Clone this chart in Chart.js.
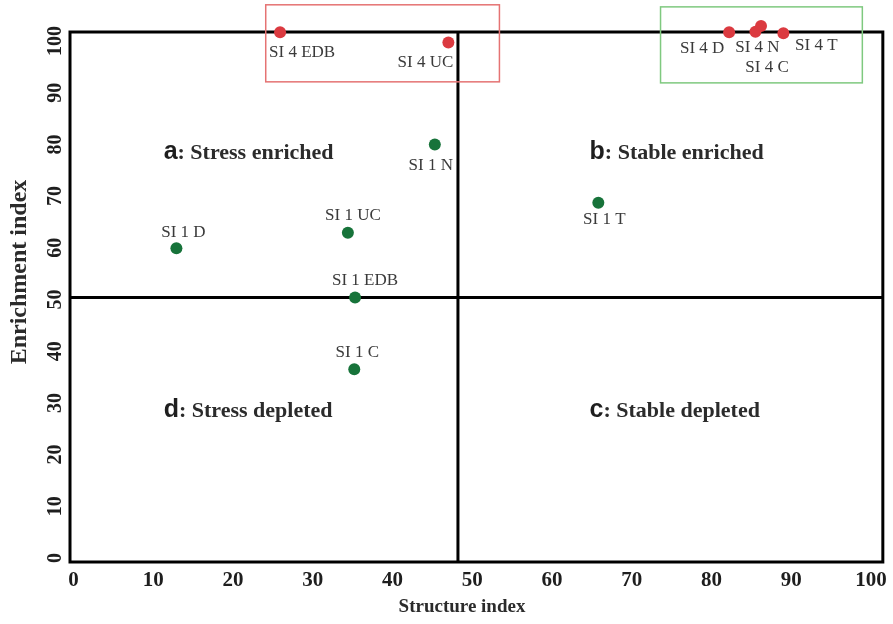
<!DOCTYPE html>
<html>
<head>
<meta charset="utf-8">
<script src="https://cdn.jsdelivr.net/npm/chart.js@4.4.1/dist/chart.umd.min.js"></script>
<style>
  html, body { margin: 0; padding: 0; background: #ffffff; }
  canvas { display: block; }
</style>
</head>
<body>
<canvas id="c" width="893" height="624"></canvas>
<script>
// ---------------- data ----------------
const tickValues = [0, 10, 20, 30, 40, 50, 60, 70, 80, 90, 100];

const si1Labels     = ['SI 1 D', 'SI 1 UC', 'SI 1 EDB', 'SI 1 N', 'SI 1 C', 'SI 1 T'];
const si1Structure  = [12.9, 34.4, 35.3, 45.3, 35.2, 65.8];
const si1Enrichment = [59.9, 62.9, 50.4, 80.0, 36.5, 68.7];

const si4Labels     = ['SI 4 EDB', 'SI 4 UC', 'SI 4 D', 'SI 4 N', 'SI 4 C', 'SI 4 T'];
const si4Structure  = [25.9, 47.0, 82.2, 85.5, 86.2, 89.0];
const si4Enrichment = [101.7, 99.7, 101.7, 101.8, 102.9, 101.5];

// quadrant dividers (as drawn in the reference)
const dividerStructure  = 48.2;
const dividerEnrichment = 50.4;

// quadrant captions
const quadrantLetters = ['a', 'b', 'c', 'd'];
const quadrantNames   = [': Stress enriched', ': Stable enriched', ': Stable depleted', ': Stress depleted'];
const quadrantX       = [11.3, 64.7, 64.7, 11.3];
const quadrantY       = [77.2, 77.2, 27.3, 27.3];

// highlight boxes (structure from/to, enrichment from/to)
const boxStructure  = [[24.1, 53.4], [73.6, 98.9]];
const boxEnrichment = [[92.1, 107.0], [91.9, 106.6]];

// axis titles
const xTitle = 'Structure index';
const yTitle = 'Enrichment index';

// ---------------- styles ----------------
const GREEN = '#17733a';
const RED = '#db3a40';
const SERIF = '"Liberation Serif", "Times New Roman", serif';
const boxColors = ['#e57373', '#7fc97f'];
const si1LabelOffsets = [[7, -16], [5, -17], [10, -17], [-4, 21], [3, -17], [6, 17]];
const si4LabelOffsets = [[22, 20], [-23, 20], [-27, 16], [2, 16], [6, 42], [33, 12]];

const toPoints = (xs, ys) => xs.map((x, i) => ({ x: x, y: ys[i] }));

const decor = {
  id: 'decor',
  beforeDatasetsDraw(chart) {
    const { ctx, chartArea: a, scales: { x, y } } = chart;
    ctx.save();
    // frame
    ctx.strokeStyle = '#000';
    ctx.lineWidth = 3;
    ctx.strokeRect(a.left, a.top, a.right - a.left, a.bottom - a.top);
    // dividers
    const dx = x.getPixelForValue(dividerStructure);
    const dy = y.getPixelForValue(dividerEnrichment);
    ctx.beginPath();
    ctx.moveTo(dx, a.top); ctx.lineTo(dx, a.bottom);
    ctx.moveTo(a.left, dy); ctx.lineTo(a.right, dy);
    ctx.stroke();
    // boxes
    ctx.lineWidth = 1.5;
    boxStructure.forEach((bs, i) => {
      const be = boxEnrichment[i];
      const x0 = x.getPixelForValue(bs[0]), x1 = x.getPixelForValue(bs[1]);
      const y0 = y.getPixelForValue(be[1]), y1 = y.getPixelForValue(be[0]);
      ctx.strokeStyle = boxColors[i];
      ctx.strokeRect(x0, y0, x1 - x0, y1 - y0);
    });
    // quadrant captions
    ctx.textBaseline = 'alphabetic';
    ctx.textAlign = 'left';
    quadrantLetters.forEach((letter, i) => {
      const px = x.getPixelForValue(quadrantX[i]);
      const py = y.getPixelForValue(quadrantY[i]);
      ctx.fillStyle = '#1e1e1e';
      ctx.font = 'bold 25px "Liberation Sans", Arial, sans-serif';
      ctx.fillText(letter, px, py);
      const w = ctx.measureText(letter).width;
      ctx.fillStyle = '#2b2b2b';
      ctx.font = 'bold 22px ' + SERIF;
      ctx.fillText(quadrantNames[i], px + w, py);
    });
    ctx.restore();
  },
  afterDatasetsDraw(chart) {
    const { ctx, chartArea: a } = chart;
    ctx.save();
    ctx.font = '17px ' + SERIF;
    ctx.fillStyle = '#3a3a3a';
    ctx.textAlign = 'center';
    ctx.textBaseline = 'middle';
    const groups = [[si1Labels, si1LabelOffsets], [si4Labels, si4LabelOffsets]];
    groups.forEach((g, di) => {
      const meta = chart.getDatasetMeta(di);
      meta.data.forEach((pt, i) => {
        ctx.fillText(g[0][i], pt.x + g[1][i][0], pt.y + g[1][i][1]);
      });
    });
    // axis titles
    ctx.fillStyle = '#2b2b2b';
    ctx.font = 'bold 19px ' + SERIF;
    ctx.fillText(xTitle, a.left + 392, a.bottom + 45);
    ctx.translate(a.left - 50, a.top + 240);
    ctx.rotate(-Math.PI / 2);
    ctx.font = 'bold 24px ' + SERIF;
    ctx.fillText(yTitle, 0, 0);
    ctx.restore();
  }
};

new Chart(document.getElementById('c'), {
  type: 'scatter',
  data: {
    datasets: [
      { label: 'SI 1', data: toPoints(si1Structure, si1Enrichment), backgroundColor: GREEN,
        borderWidth: 0, pointRadius: 6, pointHoverRadius: 6, clip: false },
      { label: 'SI 4', data: toPoints(si4Structure, si4Enrichment), backgroundColor: RED,
        borderWidth: 0, pointRadius: 6, pointHoverRadius: 6, clip: false }
    ]
  },
  options: {
    responsive: false,
    animation: false,
    devicePixelRatio: 1,
    layout: { padding: { top: 32, right: 10, left: 0, bottom: 0 } },
    plugins: { legend: { display: false }, tooltip: { enabled: false } },
    scales: {
      x: {
        type: 'linear',
        min: -0.44, max: 101.47,
        grid: { display: false, drawTicks: false },
        border: { display: false },
        afterBuildTicks: s => { s.ticks = tickValues.map(v => ({ value: v })); },
        afterFit: s => { s.height = 62; },
        ticks: {
          autoSkip: false, maxRotation: 0, padding: 6, color: '#1e1e1e',
          font: { family: SERIF, size: 21, weight: 'bold' }
        },
        title: { display: false }
      },
      y: {
        type: 'linear',
        min: -0.77, max: 101.74,
        grid: { display: false, drawTicks: false },
        border: { display: false },
        afterBuildTicks: s => { s.ticks = tickValues.map(v => ({ value: v })); },
        afterFit: s => { s.width = 70; },
        ticks: {
          autoSkip: false, minRotation: 90, maxRotation: 90, crossAlign: 'center', padding: -1,
          color: '#1e1e1e',
          font: { family: SERIF, size: 20, weight: 'bold' }
        },
        title: { display: false }
      }
    }
  },
  plugins: [decor]
});
</script>
</body>
</html>
